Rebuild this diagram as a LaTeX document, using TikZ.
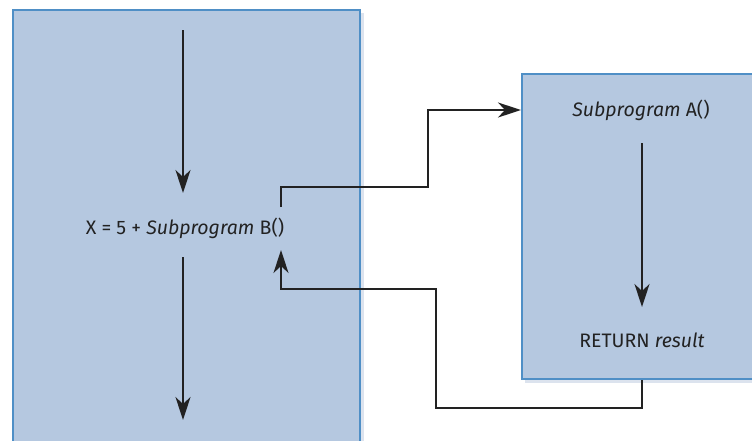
\documentclass[tikz,border=0pt]{standalone}
\usepackage{fontspec}
\setmainfont{Fira Sans}
\usetikzlibrary{arrows.meta,calc}
\definecolor{boxfill}{HTML}{B5C8E0}
\definecolor{boxline}{HTML}{4F8FC6}
\definecolor{shadowc}{HTML}{DCE3EE}
\definecolor{linec}{HTML}{222222}
\tikzset{
  panel/.style={rectangle, draw=boxline, fill=boxfill, line width=2pt, inner sep=0pt},
  lbl/.style={inner sep=0pt, font=\fontsize{19.5}{22}\selectfont, text=linec},
  arr/.style={draw=linec, line width=2pt, -{Stealth[length=23pt,width=15pt,inset=7pt]}},
  conn/.style={draw=linec, line width=2pt}
}
\begin{document}
\begin{tikzpicture}[x=1pt,y=-1pt]
\useasboundingbox (0,0) rectangle (752,440);
\clip (0,0) rectangle (752,440);
% shadows
\fill[shadowc] (16,13) rectangle (364,470);
\fill[shadowc] (525,77) rectangle (780,383);
% panels
\node[panel, minimum width=347pt, minimum height=451pt, anchor=north west] (leftbox) at (12,9) {};
\node[panel, minimum width=260pt, minimum height=305pt, anchor=north west] (rightbox) at (521,73) {};
% labels
\node[lbl] (callB) at (185,228) {X = 5 + \textit{Subprogram} B()};
\node[lbl] (subA) at (641,110) {\textit{Subprogram} A()};
\node[lbl] (ret) at (642,340) {RETURN \textit{result}};
% coordinates
\coordinate (inTop) at (183,30);
\coordinate (outBot) at (183,420);
\coordinate (bOut) at (281,207);
\coordinate (bIn) at (281,250);
\coordinate (aTop) at (642,143);
\coordinate (aBot) at (642,307);
% flow in left box
\draw[arr] (inTop) -- (inTop |- 0,193);
\draw[arr] (inTop |- 0,257) -- (outBot);
% flow in right box
\draw[arr] (aTop) -- (aBot);
% call
\draw[arr] (bOut) |- (428,187) |- (subA -| rightbox.west);
% return
\draw[arr] (ret |- rightbox.south) |- (436,408) |- (281,289) -- (bIn);
\end{tikzpicture}
\end{document}
